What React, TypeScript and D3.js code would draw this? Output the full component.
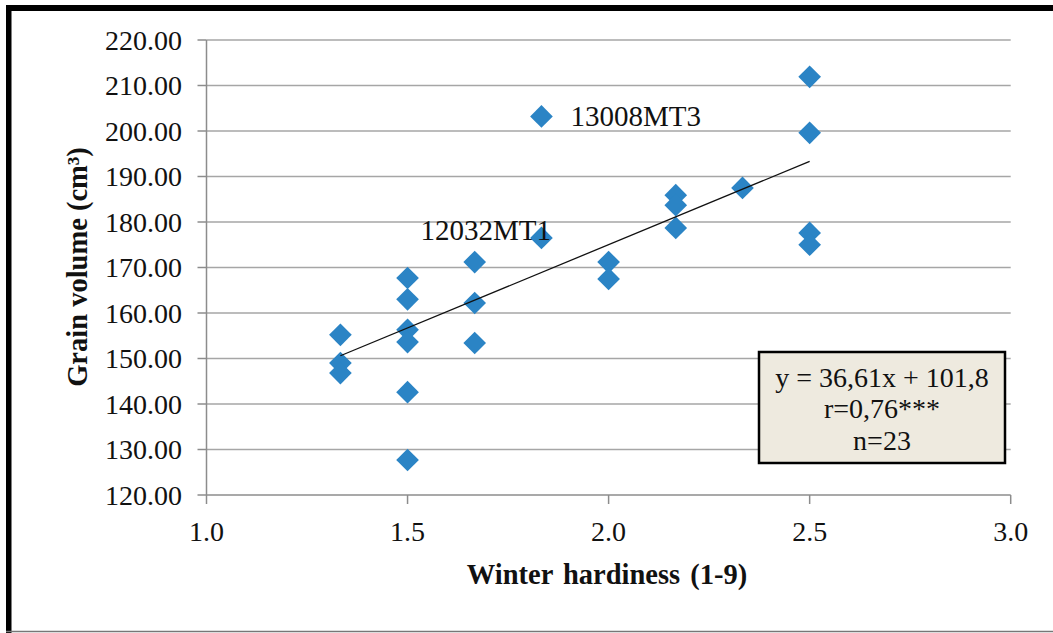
import React from "react";
import * as d3 from "d3";

const hardiness = [1.333, 1.333, 1.333, 1.5, 1.5, 1.5, 1.5, 1.5, 1.5, 1.667, 1.667, 1.667, 1.833, 1.833, 2.0, 2.0, 2.167, 2.167, 2.167, 2.333, 2.5, 2.5, 2.5, 2.5];
const grainVolume = [155.2, 149.0, 146.8, 167.7, 163.0, 156.3, 153.6, 142.6, 127.7, 171.2, 162.2, 153.4, 176.5, 203.2, 171.2, 167.5, 185.9, 183.7, 178.7, 187.5, 211.9, 199.6, 177.6, 175.0];
const pointLabels = [
  { x: 1.833, y: 203.2, text: "13008MT3", dx: 29, dy: 10 },
  { x: 1.833, y: 176.5, text: "12032MT1", dx: -121, dy: 2 },
];
const slope = 36.61;
const intercept = 101.8;
const fitRange = [1.333, 2.5];
const xTicks = [1.0, 1.5, 2.0, 2.5, 3.0];
const yTicks = [120, 130, 140, 150, 160, 170, 180, 190, 200, 210, 220];
const statLines = ["y = 36,61x + 101,8", "r=0,76***", "n=23"];

const W = 1053;
const H = 633;
const serif = { fontFamily: "Liberation Serif, Times New Roman, Times, serif" };

export default function App() {
  const x = d3.scaleLinear().domain([1, 3]).range([206.5, 1010.7]);
  const y = d3.scaleLinear().domain([120, 220]).range([495, 40]);
  const diamond = d3.symbol().type(d3.symbolDiamond2).size(2 * 12.8 * 12.8)();
  const fit = d3.line<number>().x((v) => x(v)).y((v) => y(slope * v + intercept));
  const axisColor = "#8c8c8c";

  return (
    <svg width={W} height={H} style={{ position: "absolute", left: 0, top: 0, background: "#fff" }}>
      <rect x={0} y={0} width={W} height={H} fill="#fff" />
      {/* frame */}
      <rect x={6} y={5} width={W + 10} height={6} fill="#000" />
      <rect x={6} y={5} width={5.5} height={H} fill="#000" />
      <line x1={6} x2={W} y1={631.5} y2={631.5} stroke="#777" strokeWidth={1.5} />

      {/* gridlines */}
      {yTicks.slice(1).map((t) => (
        <line key={"g" + t} x1={x(1)} x2={x(3)} y1={y(t)} y2={y(t)} stroke="#a6a6a6" strokeWidth={1.5} />
      ))}
      {/* y axis */}
      <line x1={x(1)} x2={x(1)} y1={y(220)} y2={y(120)} stroke={axisColor} strokeWidth={1.5} />
      {yTicks.map((t) => (
        <g key={"yt" + t}>
          <line x1={x(1) - 9} x2={x(1)} y1={y(t)} y2={y(t)} stroke={axisColor} strokeWidth={1.5} />
          <text x={182} y={y(t)} dy="0.35em" textAnchor="end" fontSize={28} fill="#111" style={serif}>
            {t.toFixed(2)}
          </text>
        </g>
      ))}
      {/* x axis */}
      <line x1={x(1)} x2={x(3)} y1={y(120)} y2={y(120)} stroke={axisColor} strokeWidth={1.5} />
      {xTicks.map((t) => (
        <g key={"xt" + t}>
          <line x1={x(t)} x2={x(t)} y1={y(120)} y2={y(120) + 9} stroke={axisColor} strokeWidth={1.5} />
          <text x={x(t)} y={541} textAnchor="middle" fontSize={28} fill="#111" style={serif}>
            {t.toFixed(1)}
          </text>
        </g>
      ))}

      {/* points */}
      {hardiness.map((h, i) => (
        <path key={"p" + i} d={diamond!} transform={`translate(${x(h)},${y(grainVolume[i])})`} fill="#2b84c5" />
      ))}

      {/* trend line */}
      <path d={fit(fitRange)!} stroke="#111" strokeWidth={1.3} fill="none" />

      {/* point labels */}
      {pointLabels.map((l) => (
        <text key={l.text} x={x(l.x) + l.dx} y={y(l.y) + l.dy} fontSize={29} fill="#111" style={serif}>
          {l.text}
        </text>
      ))}

      {/* stats box */}
      <rect x={759} y={352} width={246} height={111} fill="#eeeadf" stroke="#000" strokeWidth={2.5} />
      {statLines.map((s, i) => (
        <text key={s} x={882} y={[387, 418, 450][i]} textAnchor="middle" fontSize={28} fill="#111" style={serif}>
          {s}
        </text>
      ))}

      {/* axis titles */}
      <text x={607} y={584} textAnchor="middle" fontSize={28.5} fontWeight="bold" fill="#111" style={{ ...serif, wordSpacing: "3px" }}>
        Winter hardiness (1-9)
      </text>
      <text transform="translate(87,267) rotate(-90)" textAnchor="middle" fontSize={28.5} fontWeight="bold" fill="#111" style={serif}>
        Grain volume (cm³)
      </text>
    </svg>
  );
}
